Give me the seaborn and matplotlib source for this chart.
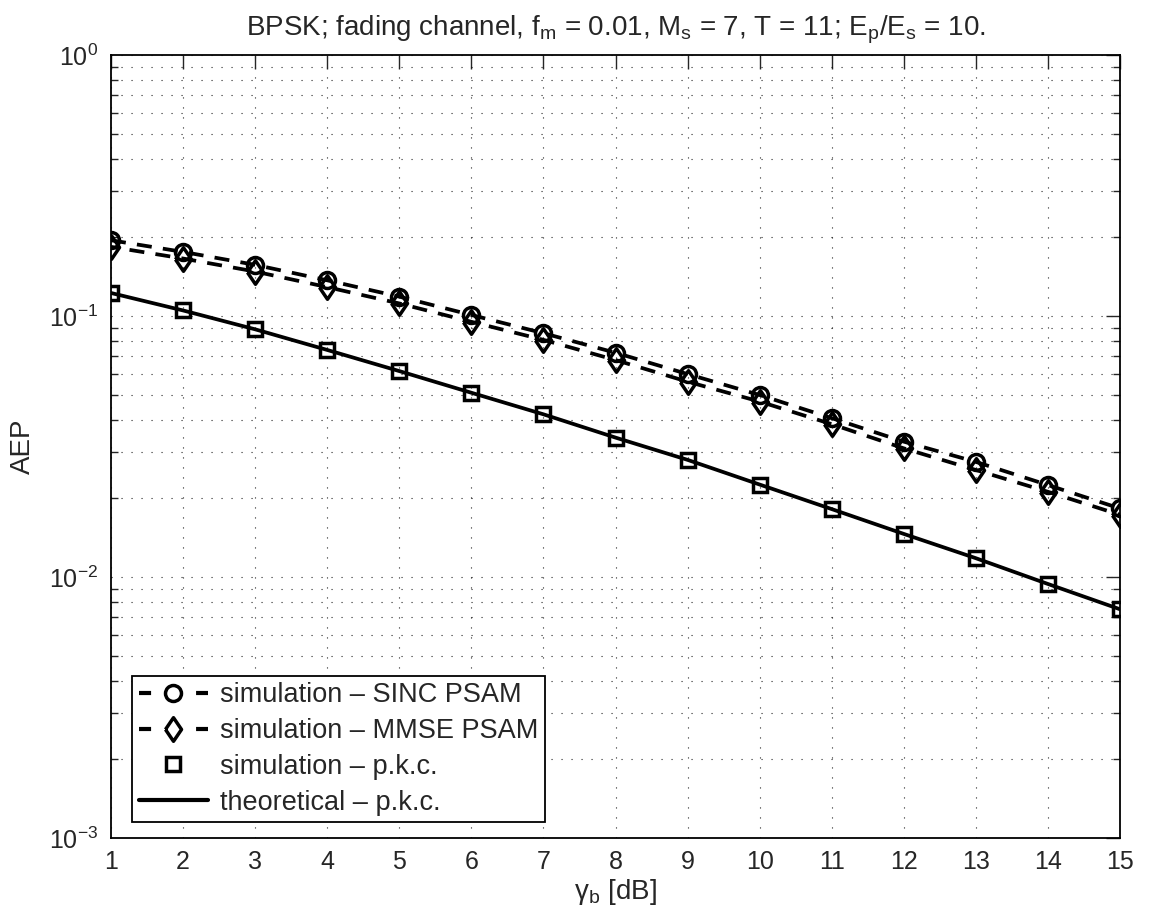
import numpy as np
import pandas as pd
import matplotlib
matplotlib.use("Agg")
import matplotlib.pyplot as plt
from matplotlib.lines import Line2D
from matplotlib.ticker import LogLocator, NullFormatter
import seaborn as sns

# ---- data ----
gamma_b = [1, 2, 3, 4, 5, 6, 7, 8, 9, 10, 11, 12, 13, 14, 15]
sim_sinc = [0.195, 0.176, 0.157, 0.137, 0.1186, 0.1009, 0.0859, 0.0723, 0.0599,
            0.0498, 0.0406, 0.0330, 0.0276, 0.0225, 0.0183]
sim_mmse = [0.184, 0.166, 0.148, 0.129, 0.1117, 0.0950, 0.0810, 0.0678, 0.0560,
            0.0470, 0.0385, 0.0311, 0.0257, 0.0212, 0.0173]
sim_pkc = [0.1225, 0.105, 0.0889, 0.0741, 0.0615, 0.0508, 0.0420, 0.0342, 0.0281,
           0.0226, 0.0182, 0.01462, 0.0118, 0.0094, 0.00752]
theory_pkc = [0.1225, 0.105, 0.0889, 0.0741, 0.0615, 0.0508, 0.0420, 0.0342, 0.0281,
              0.0226, 0.0182, 0.01462, 0.0118, 0.0094, 0.00752]
labels = ["simulation \u2013 SINC PSAM", "simulation \u2013 MMSE PSAM",
          "simulation \u2013 p.k.c.", "theoretical \u2013 p.k.c."]
title = ("BPSK; fading channel, f$_\\mathregular{m}$ = 0.01, M$_\\mathregular{s}$ = 7, "
         "T = 11; E$_\\mathregular{p}$/E$_\\mathregular{s}$ = 10.")

sns.set_style("white")
plt.rcParams['font.family'] = ['Liberation Sans', 'DejaVu Sans']
plt.rcParams['mathtext.fontset'] = 'custom'
plt.rcParams['mathtext.rm'] = 'Liberation Sans'

fig = plt.figure(figsize=(11.49, 9.24), dpi=100)
ax = fig.add_axes([0.0966, 0.0931, 0.8782, 0.8474])

df = pd.DataFrame({"x": gamma_b, "sinc": sim_sinc, "mmse": sim_mmse,
                   "pkc": sim_pkc, "th": theory_pkc})

lw = 2.7
mew = 2.5
dash = (4.0, 3.0)
diamond = [(-0.34, 0.0), (0.0, 0.5), (0.34, 0.0), (0.0, -0.5), (-0.34, 0.0)]
dms = 17

sns.lineplot(data=df, x="x", y="th", ax=ax, color="black", linewidth=lw, zorder=3)
sns.lineplot(data=df, x="x", y="pkc", ax=ax, color="black", linestyle="none",
             marker="s", markersize=10.5, markerfacecolor="none",
             markeredgecolor="black", markeredgewidth=mew, zorder=4)
sns.lineplot(data=df, x="x", y="sinc", ax=ax, color="black", linewidth=lw,
             marker="o", markersize=11.5, markerfacecolor="none",
             markeredgecolor="black", markeredgewidth=mew, zorder=4)
sns.lineplot(data=df, x="x", y="mmse", ax=ax, color="black", linewidth=lw,
             marker=diamond, markersize=dms, markerfacecolor="none",
             markeredgecolor="black", markeredgewidth=mew, zorder=4)
lines = ax.get_lines()
lines[2].set_linestyle((0, dash))
lines[3].set_linestyle((2.0, dash))

ax.set_yscale("log")
ax.set_xlim(1, 15)
ax.set_ylim(1e-3, 1)
ax.set_xticks(gamma_b)
ax.set_xticklabels([str(v) for v in gamma_b])
ax.yaxis.set_major_locator(LogLocator(base=10, numticks=10))
ax.yaxis.set_minor_locator(LogLocator(base=10, subs=np.arange(2, 10), numticks=100))
ax.yaxis.set_minor_formatter(NullFormatter())

ax.grid(True, which="major", axis="both", linestyle=(0, (1, 8)), color="black",
        linewidth=0.8, alpha=0.85)
ax.grid(True, which="minor", axis="y", linestyle=(0, (1, 8)), color="black",
        linewidth=0.8, alpha=0.85)

ax.tick_params(axis="both", which="major", direction="in", length=10, width=1,
               labelsize=18, top=True, right=True, pad=9)
ax.tick_params(axis="y", which="minor", direction="in", length=5, width=1,
               left=True, right=True)
ax.tick_params(axis="x", which="minor", bottom=False, top=False)
for sp in ax.spines.values():
    sp.set_color("black")
    sp.set_linewidth(1.3)

ax.set_xlabel("\u03b3$_\\mathregular{b}$ [dB]", fontsize=20, labelpad=2)
ax.set_ylabel("AEP", fontsize=20, labelpad=10)
ax.set_title(title, fontsize=20, pad=14)

leg_dash = (0, (2.9, 10.8))
handles = [
    Line2D([], [], color="black", linewidth=3, linestyle=leg_dash, marker="o",
           markersize=11.5, markerfacecolor="none", markeredgewidth=mew),
    Line2D([], [], color="black", linewidth=3, linestyle=leg_dash, marker=diamond,
           markersize=dms, markerfacecolor="none", markeredgewidth=mew),
    Line2D([], [], color="black", linestyle="none", marker="s",
           markersize=10.5, markerfacecolor="none", markeredgewidth=mew),
    Line2D([], [], color="black", linewidth=3),
]
leg = ax.legend(handles, labels, loc="lower left", bbox_to_anchor=(0.021, 0.02),
                fontsize=19.5, frameon=True, fancybox=False, framealpha=1,
                edgecolor="black", handlelength=2.55, handletextpad=0.45,
                borderpad=0.25, labelspacing=0.36, borderaxespad=0)
leg.get_frame().set_linewidth(1.3)

fig.savefig("out.png", dpi=100, facecolor="white")
